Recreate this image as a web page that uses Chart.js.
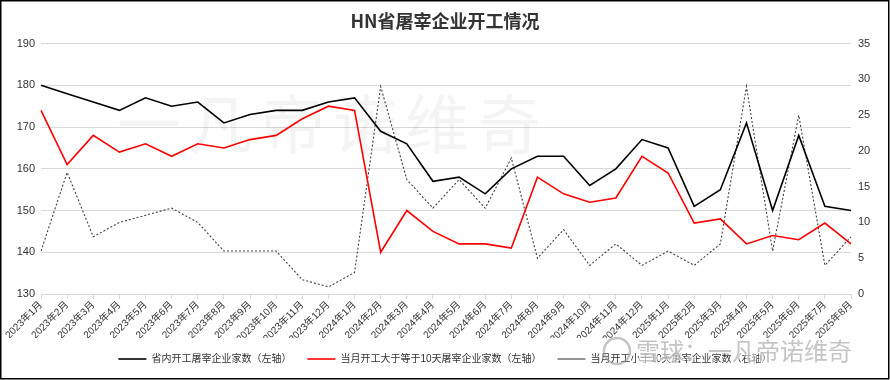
<!DOCTYPE html>
<html><head><meta charset="utf-8">
<script src="https://cdn.jsdelivr.net/npm/chart.js@4.4.0/dist/chart.umd.min.js"></script>
<style>html,body{margin:0;padding:0;background:#fff}#wrap{width:890px;height:380px;position:relative}</style>
</head><body><div id="wrap"><canvas id="c" width="890" height="380"></canvas></div>
<script>
const categories = ["2023年1月","2023年2月","2023年3月","2023年4月","2023年5月","2023年6月","2023年7月","2023年8月","2023年9月","2023年10月","2023年11月","2023年12月",
  "2024年1月","2024年2月","2024年3月","2024年4月","2024年5月","2024年6月","2024年7月","2024年8月","2024年9月","2024年10月","2024年11月","2024年12月",
  "2025年1月","2025年2月","2025年3月","2025年4月","2025年5月","2025年6月","2025年7月","2025年8月"];
const totalPlants = [180,178,176,174,177,175,176,171,173,174,174,176,177,169,166,157,158,154,160,163,163,156,160,167,165,151,155,171,150,168,151,150];
const plantsOver10Days = [174,161,168,164,166,163,166,165,167,168,172,175,174,140,150,145,142,142,141,158,154,152,153,163,159,147,148,142,144,143,147,142];
const plantsUnder10Days = [6,17,8,10,11,12,10,6,6,6,2,1,3,29,16,12,16,12,19,5,9,4,7,4,6,4,7,29,6,25,4,8];
const seriesNames = ["省内开工屠宰企业家数（左轴）","当月开工大于等于10天屠宰企业家数（左轴）","当月开工小于10天屠宰企业家数（右轴）"];
const leftAxisTicks = [130,140,150,160,170,180,190];
const rightAxisTicks = [0,5,10,15,20,25,30,35];
const titleText = "HN省屠宰企业开工情况";
const watermarkText = "一凡帝诺维奇";
const logoText = "雪球：一凡帝诺维奇";

const FONT = "'Liberation Sans', 'Noto Sans CJK SC', sans-serif";

const decor = {
  id: 'decor',
  beforeDatasetsDraw(chart) {
    const ctx = chart.ctx;
    ctx.save();
    ctx.fillStyle = 'rgba(0,0,0,0.045)';
    ctx.font = "64px 'Noto Sans CJK SC'";
    ctx.textAlign = 'center';
    ctx.textBaseline = 'middle';
    const chars = Array.from(watermarkText);
    chars.forEach((ch, i) => ctx.fillText(ch, 149 + i * 72, 124));
    ctx.restore();
  },
  afterDraw(chart) {
    const ctx = chart.ctx;
    ctx.save();
    ctx.font = "24px 'Noto Sans CJK SC'";
    ctx.textBaseline = 'middle';
    ctx.textAlign = 'left';
    ctx.lineWidth = 3;
    ctx.strokeStyle = 'rgba(255,255,255,0.6)';
    ctx.strokeText(logoText, 636, 351);
    ctx.fillStyle = 'rgba(150,150,150,0.55)';
    ctx.fillText(logoText, 636, 351);
    ctx.beginPath();
    ctx.arc(617, 351, 13, 0, Math.PI * 2);
    ctx.lineWidth = 2.5;
    ctx.strokeStyle = 'rgba(150,150,150,0.55)';
    ctx.stroke();
    ctx.strokeStyle = '#000';
    ctx.lineWidth = 1.5;
    ctx.strokeRect(0.75, 0.75, 888, 378);
    ctx.restore();
  }
};

new Chart(document.getElementById('c'), {
  type: 'line',
  data: {
    labels: categories,
    datasets: [
      { label: seriesNames[0], data: totalPlants, yAxisID: 'yL', borderColor: '#000', backgroundColor: '#000', borderWidth: 1.6, pointRadius: 0, tension: 0 },
      { label: seriesNames[1], data: plantsOver10Days, yAxisID: 'yL', borderColor: '#ff0000', backgroundColor: '#ff0000', borderWidth: 1.6, pointRadius: 0, tension: 0 },
      { label: seriesNames[2], data: plantsUnder10Days, yAxisID: 'yR', borderColor: '#404040', backgroundColor: '#404040', borderWidth: 1.1, borderDash: [2, 2], pointRadius: 0, tension: 0 }
    ]
  },
  options: {
    responsive: false,
    animation: false,
    layout: { padding: { top: 2, left: 0, right: 0, bottom: 6 } },
    plugins: {
      title: { display: true, text: titleText, color: '#333', font: { family: "'Noto Sans CJK SC', sans-serif", size: 18, weight: 'bold' }, padding: { top: 8, bottom: 12 } },
      legend: {
        position: 'bottom',
        labels: {
          usePointStyle: true, pointStyle: 'line', pointStyleWidth: 28,
          color: '#333', font: { family: FONT, size: 10 }, padding: 16, boxHeight: 10
        }
      },
      tooltip: { enabled: false }
    },
    scales: {
      x: {
        offset: false,
        grid: { drawOnChartArea: false, drawTicks: true, tickLength: 5, color: '#d9d9d9' },
        border: { color: '#d9d9d9' },
        ticks: { autoSkip: false, maxRotation: 45, minRotation: 45, color: '#333', font: { family: FONT, size: 10 }, padding: 0 },
        afterFit(s) { s.height = 44; s.paddingLeft = 0; s.paddingRight = 0; }
      },
      yL: {
        position: 'left', min: 130, max: 190,
        afterBuildTicks(s) { s.ticks = leftAxisTicks.map(v => ({ value: v })); },
        grid: { color: '#d9d9d9', drawTicks: false },
        border: { display: false },
        ticks: { color: '#333', font: { family: FONT, size: 11 }, padding: 6 },
        afterFit(s) { s.width = 41; }
      },
      yR: {
        position: 'right', min: 0, max: 35,
        afterBuildTicks(s) { s.ticks = rightAxisTicks.map(v => ({ value: v })); },
        grid: { drawOnChartArea: false, drawTicks: false },
        border: { display: false },
        ticks: { color: '#333', font: { family: FONT, size: 11 }, padding: 7 },
        afterFit(s) { s.width = 39; }
      }
    }
  },
  plugins: [decor]
});
</script>
</body></html>
